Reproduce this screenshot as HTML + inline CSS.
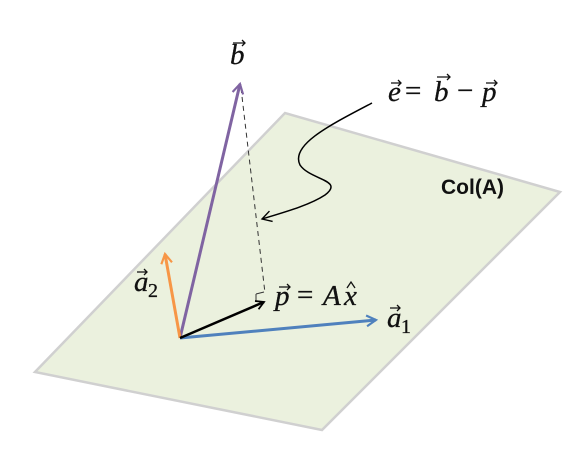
<!DOCTYPE html>
<html><head><meta charset="utf-8"><style>
html,body{margin:0;padding:0;background:#fff;width:578px;height:453px;overflow:hidden}
text{font-family:"Liberation Serif",serif;font-style:italic;fill:#111;stroke:#111;stroke-width:0.3}
.op{font-style:normal}
.va{fill:none;stroke:#111;stroke-width:1.3}
</style></head><body>
<svg width="578" height="453" viewBox="0 0 578 453">
<defs>
<marker id="ah" viewBox="0 0 10 10" refX="8" refY="5" markerWidth="4.5" markerHeight="4.5" orient="auto" markerUnits="strokeWidth"><path d="M1,1 L8,5 L1,9" fill="none" stroke="context-stroke" stroke-width="1.6"/></marker>
<marker id="ah2" viewBox="0 0 10 10" refX="8" refY="5" markerWidth="9" markerHeight="9" orient="auto" markerUnits="strokeWidth"><path d="M1,1 L8,5 L1,9" fill="none" stroke="#000" stroke-width="1"/></marker>
</defs>
<polygon points="35,372 285,113 560,192 322,430" fill="#ebf1de" stroke="#d0d0d0" stroke-width="2.5"/>
<text x="441" y="194" font-size="21" font-weight="bold" style="font-family:'Liberation Sans',sans-serif;font-style:normal;stroke:none">Col(A)</text>
<line x1="241" y1="88" x2="265" y2="293" stroke="#333" stroke-width="1" stroke-dasharray="5,4"/>
<path d="M256,294 L256,301 M256,294 L264,292" stroke="#333" stroke-width="1" fill="none"/>
<line x1="180" y1="338" x2="240" y2="84" stroke="#8064a2" stroke-width="3" marker-end="url(#ah)"/>
<line x1="180" y1="338" x2="165" y2="254" stroke="#f79646" stroke-width="3" marker-end="url(#ah)"/>
<line x1="180" y1="338" x2="376" y2="320" stroke="#4f81bd" stroke-width="3" marker-end="url(#ah)"/>
<line x1="180" y1="338" x2="264" y2="302" stroke="#000" stroke-width="2.5" marker-end="url(#ah)"/>
<path d="M372,103 C330,125 290,145 300,165 C310,180 345,180 325,195 C310,205 285,212 262,219" fill="none" stroke="#000" stroke-width="1.5" marker-end="url(#ah2)"/>

<g>
<text x="230" y="64" font-size="29">b</text>
<path class="va" d="M233,43 L245,43 M242,40 L245,43 L242,46"/>
</g>
<g>
<text x="388" y="101" font-size="29">e</text>
<path class="va" d="M391,83 L401,83 M398,80 L401,83 L398,86"/>
<text class="op" x="405" y="100" font-size="29">=</text>
<text x="434" y="101" font-size="29">b</text>
<path class="va" d="M437,77 L450,77 M447,74 L450,77 L447,80"/>
<text class="op" x="457" y="100" font-size="29">−</text>
<text x="482" y="101" font-size="29">p</text>
<path class="va" d="M486,83 L497,83 M494,80 L497,83 L494,86"/>
</g>
<g>
<text x="134" y="291" font-size="29">a</text>
<path class="va" d="M137,272 L147,272 M144,269 L147,272 L144,275"/>
<text class="op" x="148" y="297" font-size="20">2</text>
</g>
<g>
<text x="275" y="305" font-size="29">p</text>
<path class="va" d="M279,287 L290,287 M287,284 L290,287 L287,290"/>
<text class="op" x="297" y="304" font-size="29">=</text>
<text x="323" y="305" font-size="29">A</text>
<text x="344" y="305" font-size="29">x</text>
<path class="va" d="M347,288 L351,282 L355,288"/>
</g>
<g>
<text x="387" y="327" font-size="29">a</text>
<path class="va" d="M390,308 L400,308 M397,305 L400,308 L397,311"/>
<text class="op" x="401" y="333" font-size="20">1</text>
</g>
</svg>
</body></html>
